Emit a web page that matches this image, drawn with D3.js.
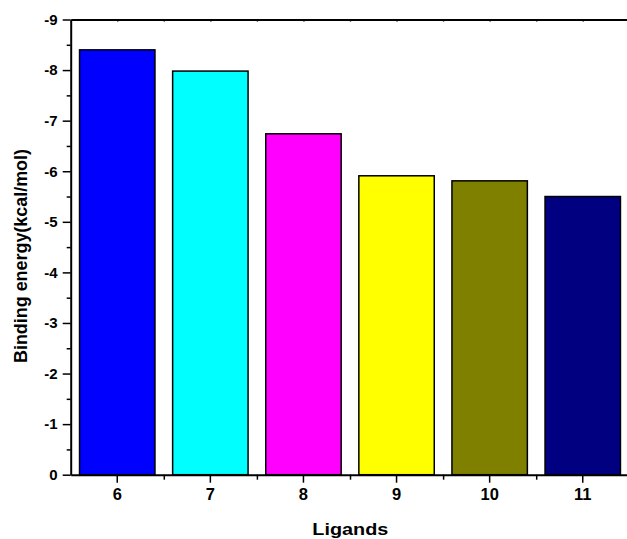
<!DOCTYPE html>
<html lang="en">
<head>
<meta charset="UTF-8">
<title>Binding energy by ligand</title>
<script src="https://cdnjs.cloudflare.com/ajax/libs/d3/7.8.5/d3.min.js"></script>
<style>
  html, body { margin: 0; padding: 0; background: #fff; }
  svg text { font-family: Arial, "Liberation Sans", sans-serif; font-weight: bold; fill: #000; }
</style>
</head>
<body>
<div id="chart"></div>
<script>
  // data
  var ligands = ["6", "7", "8", "9", "10", "11"];
  var energies = [-8.40, -7.98, -6.74, -5.91, -5.81, -5.50];
  var barColors = ["#0000ff", "#00ffff", "#ff00ff", "#ffff00", "#808000", "#000080"];
  var yTicks = [0, -1, -2, -3, -4, -5, -6, -7, -8, -9];
  var yMinorTicks = [-0.5, -1.5, -2.5, -3.5, -4.5, -5.5, -6.5, -7.5, -8.5];

  var width = 627, height = 539;
  // plot frame ("top" is a reserved window property, so other names)
  var plotLeft = 70.7, plotRight = 629.3, plotTop = 19.5, plotBottom = 474.7;

  var svg = d3.select("#chart").append("svg")
    .attr("width", width)
    .attr("height", height);

  var x = d3.scaleBand()
    .domain(ligands)
    .range([plotLeft, plotRight])
    .paddingInner(0.19)
    .paddingOuter(0.095);

  // index scale for the minor ticks between categories
  var xi = d3.scaleLinear()
    .domain([-0.5, ligands.length - 0.5])
    .range([plotLeft, plotRight]);

  var y = d3.scaleLinear()
    .domain([0, -9])
    .range([plotBottom, plotTop]);

  // bars
  svg.append("g").selectAll("rect")
    .data(energies)
    .enter()
    .append("rect")
    .attr("x", function(d, i) { return x(ligands[i]); })
    .attr("width", x.bandwidth())
    .attr("y", function(d) { return y(d); })
    .attr("height", function(d) { return y(0) - y(d); })
    .attr("fill", function(d, i) { return barColors[i]; })
    .attr("stroke", "#000")
    .attr("stroke-width", 1.5);

  // y axis (plain hyphen for the minus, like the original)
  var yAxis = svg.append("g")
    .attr("transform", "translate(" + plotLeft + ",0)")
    .call(d3.axisLeft(y).tickValues(yTicks).tickSize(8).tickPadding(5).tickSizeOuter(0)
      .tickFormat(function(d) { return String(d); }));
  yAxis.selectAll("text").style("font-size", "15px");

  svg.append("g")
    .attr("transform", "translate(" + plotLeft + ",0)")
    .call(d3.axisLeft(y).tickValues(yMinorTicks).tickSize(4).tickFormat(""))
    .select(".domain").remove();

  // x axis
  var xAxis = svg.append("g")
    .attr("transform", "translate(0," + plotBottom + ")")
    .call(d3.axisBottom(x).tickSize(8).tickPadding(6).tickSizeOuter(0));
  xAxis.selectAll("text").style("font-size", "16.5px");

  svg.append("g")
    .attr("transform", "translate(0," + plotBottom + ")")
    .call(d3.axisBottom(xi).tickValues([0.5, 1.5, 2.5, 3.5, 4.5]).tickSize(5).tickFormat(""))
    .select(".domain").remove();

  // top frame line with small inward ticks
  svg.append("g")
    .attr("transform", "translate(0," + plotTop + ")")
    .call(d3.axisBottom(xi).tickValues([0, 0.5, 1, 1.5, 2, 2.5, 3, 3.5, 4, 4.5, 5]).tickSize(2).tickSizeOuter(0).tickFormat(""));

  svg.selectAll(".domain").attr("stroke-width", 2);
  svg.selectAll(".tick line").attr("stroke-width", 1.5);

  // axis titles
  svg.append("text")
    .attr("transform", "translate(26.5,256) rotate(-90)")
    .attr("text-anchor", "middle")
    .attr("textLength", 214)
    .attr("lengthAdjust", "spacingAndGlyphs")
    .style("font-size", "18px")
    .text("Binding energy(kcal/mol)");

  svg.append("text")
    .attr("x", 350.3)
    .attr("y", 535)
    .attr("text-anchor", "middle")
    .attr("textLength", 76)
    .attr("lengthAdjust", "spacingAndGlyphs")
    .style("font-size", "17px")
    .text("Ligands");
</script>
</body>
</html>
